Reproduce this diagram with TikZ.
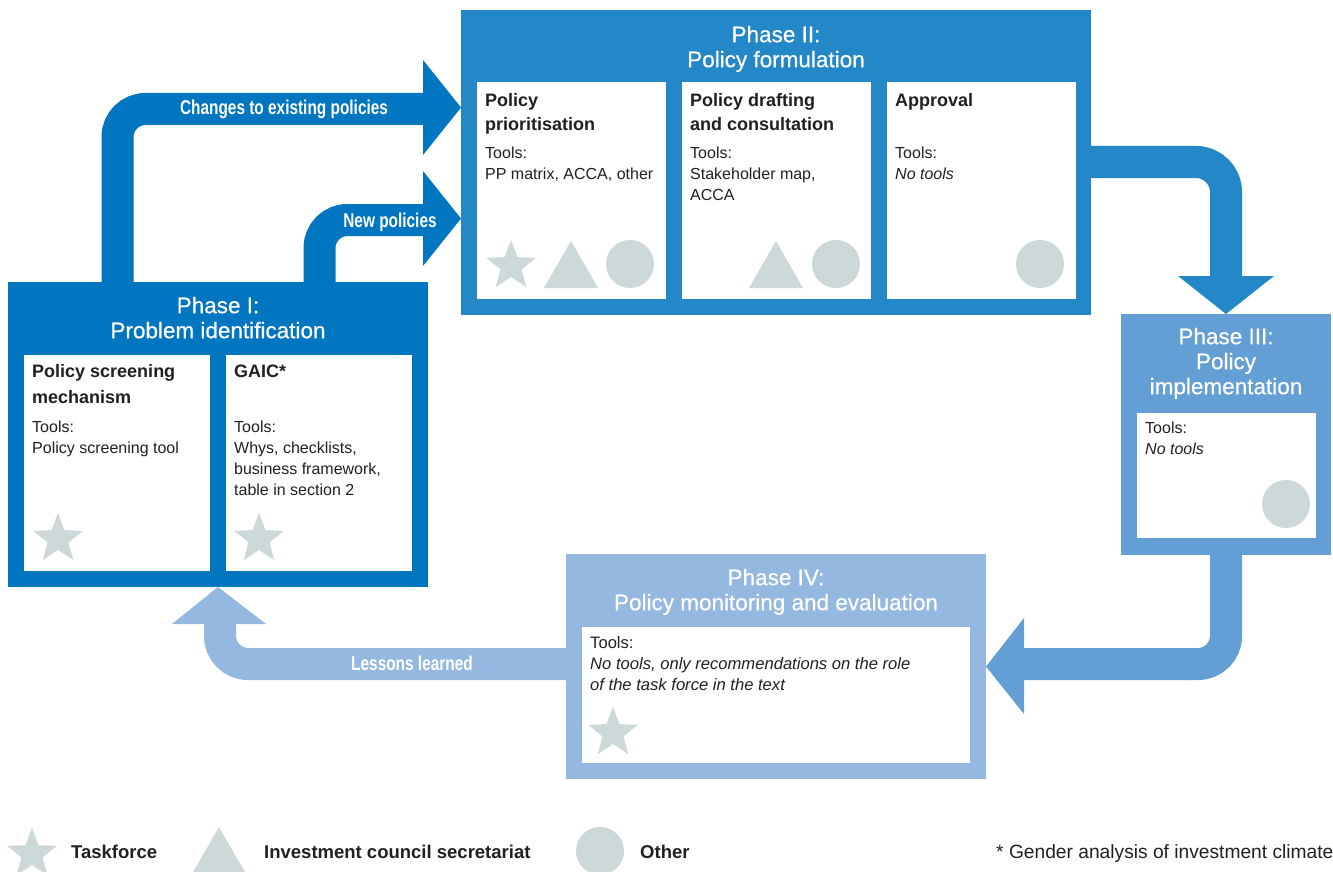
\documentclass[tikz,border=0pt]{standalone}
\usepackage{fontspec}
\setmainfont{Liberation Sans}
\newfontfamily\condfont[FakeStretch=0.77]{Liberation Sans}
\newfontfamily\ttlfont[FakeBold=0.6]{Liberation Sans}
\definecolor{cone}{RGB}{0,118,192}
\definecolor{ctwo}{RGB}{35,135,200}
\definecolor{cthree}{RGB}{99,158,212}
\definecolor{cfour}{RGB}{149,184,224}
\definecolor{cmark}{RGB}{205,216,217}
\definecolor{txt}{RGB}{35,31,32}
\begin{document}
\begin{tikzpicture}[x=1pt,y=-1pt,
  box/.style={rectangle,inner sep=0pt,outer sep=0pt,anchor=north west,draw=none},
  inbox/.style={box,fill=white},
  ttl/.style={anchor=north,align=center,inner sep=0pt,text=white,font=\ttlfont\fontsize{22.5}{25}\selectfont},
  sub/.style={anchor=north west,align=left,inner sep=0pt,text=txt,font=\bfseries\fontsize{18}{25}\selectfont},
  body/.style={anchor=north west,align=left,inner sep=0pt,text=txt,font=\fontsize{16}{21}\selectfont},
  albl/.style={anchor=base,inner sep=0pt,text=white,font=\condfont\bfseries\fontsize{20}{24}\selectfont},
  lgd/.style={anchor=base west,inner sep=0pt,text=txt,font=\bfseries\fontsize{18.5}{22}\selectfont},
  shaft/.style={line width=32pt},
  tstar/.pic={\fill[cmark] (270:26) -- (306:11) -- (342:26) -- (18:11) -- (54:26) -- (90:11) -- (126:26) -- (162:11) -- (198:26) -- (234:11) -- cycle;},
  ttri/.pic={\fill[cmark] (0,-23.5) -- (27,23.5) -- (-27,23.5) -- cycle;},
  tdot/.pic={\fill[cmark] (0,0) circle[radius=24pt];}
]
\fill[white] (0,0) rectangle (1333,872);
\useasboundingbox (0,0) rectangle (1333,872);

% ---------- Phase I ----------
\node[box,fill=cone,minimum width=420pt,minimum height=305pt] (p1) at (8,282) {};
\node[inbox,minimum width=186pt,minimum height=216pt] (p1a) at (24,355) {};
\node[inbox,minimum width=186pt,minimum height=216pt] (p1b) at (226,355) {};
\node[ttl] (p1t) at (218,295.5) {\strut Phase I:\\Problem identification};
\node[sub,font=\bfseries\fontsize{18}{26}\selectfont] (p1as) at (32,358.8) {\strut Policy screening\\mechanism};
\node[body] (p1ab) at (32,417.3) {\strut Tools:\\Policy screening tool};
\node[sub] (p1bs) at (234,359.5) {\strut GAIC*};
\node[body] (p1bb) at (234,417.3) {\strut Tools:\\Whys, checklists,\\business framework,\\table in section 2};
\pic at (58,539) {tstar};
\pic at (259,539) {tstar};

% ---------- Phase II ----------
\node[box,fill=ctwo,minimum width=630pt,minimum height=305pt] (p2) at (461,10) {};
\node[inbox,minimum width=189pt,minimum height=217pt] (p2a) at (477,82) {};
\node[inbox,minimum width=189pt,minimum height=217pt] (p2b) at (682,82) {};
\node[inbox,minimum width=189pt,minimum height=217pt] (p2c) at (887,82) {};
\node[ttl] (p2t) at (776,24.5) {\strut Phase II:\\Policy formulation};
\node[sub,font=\bfseries\fontsize{18}{24}\selectfont] (p2as) at (485,89.2) {\strut Policy\\prioritisation};
\node[sub,font=\bfseries\fontsize{18}{24}\selectfont] (p2bs) at (690,89.2) {\strut Policy drafting\\and consultation};
\node[sub,font=\bfseries\fontsize{18}{24}\selectfont] (p2cs) at (895,89.2) {\strut Approval};
\node[body] (p2ab) at (485,143.3) {\strut Tools:\\PP matrix, ACCA, other};
\node[body] (p2bb) at (690,143.3) {\strut Tools:\\Stakeholder map,\\ACCA};
\node[body] (p2cb) at (895,143.3) {\strut Tools:\\\textit{No tools}};
\pic at (511,266) {tstar};
\pic at (571,264.5) {ttri};
\pic at (630,264) {tdot};
\pic at (776,264.5) {ttri};
\pic at (836,264) {tdot};
\pic at (1040,264) {tdot};

% ---------- Phase III ----------
\node[box,fill=cthree,minimum width=210pt,minimum height=241pt] (p3) at (1121,314) {};
\node[inbox,minimum width=179pt,minimum height=125pt] (p3a) at (1137,413) {};
\node[ttl] (p3t) at (1226,326.5) {\strut Phase III:\\Policy\\implementation};
\node[body] (p3ab) at (1145,418.3) {\strut Tools:\\\textit{No tools}};
\pic at (1286,504) {tdot};

% ---------- Phase IV ----------
\node[box,fill=cfour,minimum width=420pt,minimum height=225pt] (p4) at (566,554) {};
\node[inbox,minimum width=388pt,minimum height=136pt] (p4a) at (582,627) {};
\node[ttl] (p4t) at (776,567.5) {\strut Phase IV:\\Policy monitoring and evaluation};
\node[body,font=\fontsize{16.6}{21}\selectfont] (p4ab) at (590,633.3) {\strut Tools:\\\textit{No tools, only recommendations on the role}\\\textit{of the task force in the text}};
\pic at (613,733) {tstar};

% ---------- Connectors ----------
% Phase I -> Phase II (changes)
\draw[shaft,cone,rounded corners=28pt] (p1.north west -| 117.5,0) |- (427,109);
\fill[cone] (423,60) -- (p2.west |- 0,107.5) -- (423,155) -- cycle;
\node[albl] (lchg) at (284,115) {Changes to existing policies};
% Phase I -> Phase II (new)
\draw[shaft,cone,rounded corners=28pt] (p1.north west -| 319.5,0) |- (427,220);
\fill[cone] (423,171) -- (p2.west |- 0,218.5) -- (423,266) -- cycle;
\node[albl] (lnew) at (390,227) {New policies};
% Phase II -> Phase III
\draw[shaft,ctwo,rounded corners=30pt] (p2.east |- 0,162) -| (1226,280);
\fill[ctwo] (1178,276) -- (p3.north) -- (1274,276) -- cycle;
% Phase III -> Phase IV
\draw[shaft,cthree,rounded corners=28pt] (p3.south) |- (1020,664);
\fill[cthree] (1024,618) -- (p4.east) -- (1024,714) -- cycle;
% Phase IV -> Phase I (lessons)
\draw[shaft,cfour,rounded corners=28pt] (p4.west |- 0,664) -| (220,620);
\fill[cfour] (172,624) -- (p1.south) -- (266,624) -- cycle;
\node[albl] (lles) at (412,670) {Lessons learned};

% ---------- Legend ----------
\pic at (32,854) {tstar};
\node[lgd] (ltf) at (71,858) {Taskforce};
\pic at (219,850.5) {ttri};
\node[lgd] (lics) at (264,858) {Investment council secretariat};
\pic at (600,851) {tdot};
\node[lgd] (loth) at (640,858) {Other};
\node[anchor=base west,inner sep=0pt,text=txt,font=\fontsize{19.2}{22}\selectfont] (fn) at (996,858) {* Gender analysis of investment climate};
\end{tikzpicture}
\end{document}
